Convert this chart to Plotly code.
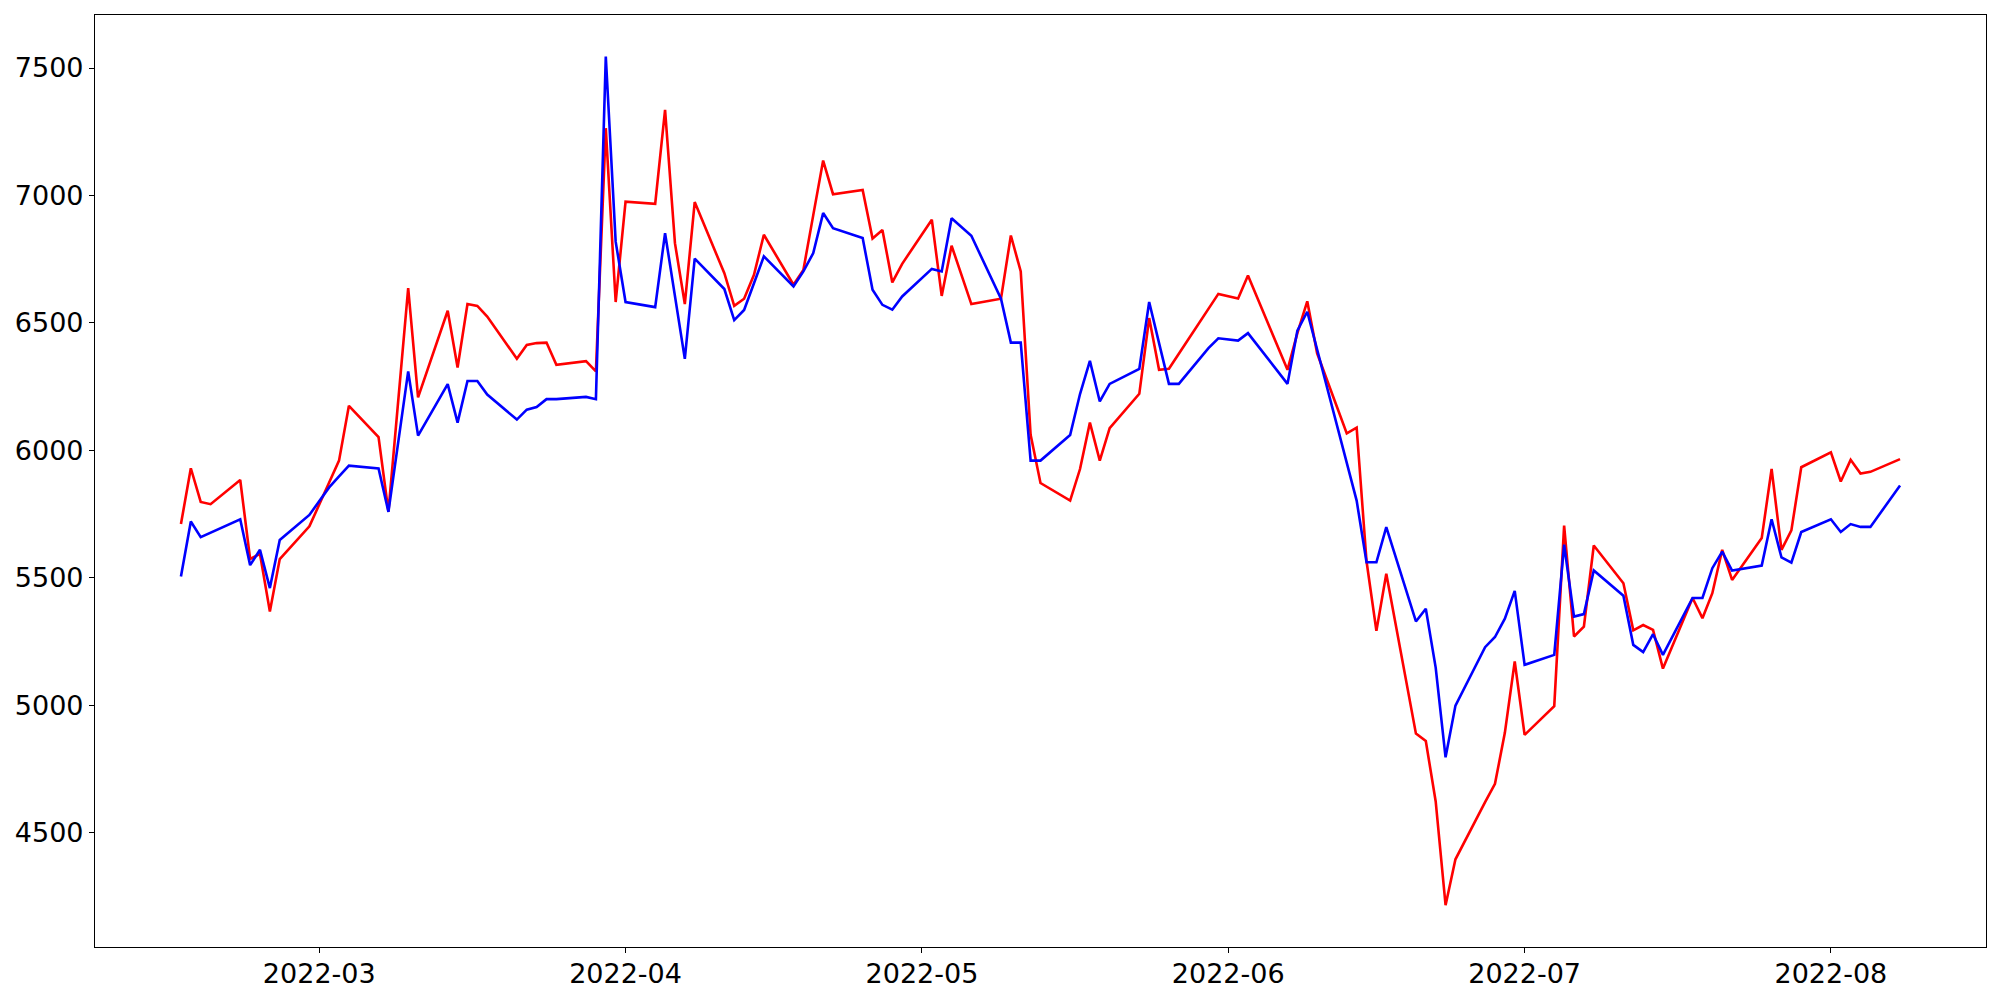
import plotly.graph_objects as go

dates = [
    "2022-02-15", "2022-02-16", "2022-02-17", "2022-02-18", "2022-02-21", "2022-02-22",
    "2022-02-23", "2022-02-24", "2022-02-25", "2022-02-28", "2022-03-02", "2022-03-03",
    "2022-03-04", "2022-03-07", "2022-03-08", "2022-03-10", "2022-03-11", "2022-03-14",
    "2022-03-15", "2022-03-16", "2022-03-17", "2022-03-18", "2022-03-21", "2022-03-22",
    "2022-03-23", "2022-03-24", "2022-03-25", "2022-03-28", "2022-03-29", "2022-03-30",
    "2022-03-31", "2022-04-01", "2022-04-04", "2022-04-05", "2022-04-06", "2022-04-07",
    "2022-04-08", "2022-04-11", "2022-04-12", "2022-04-13", "2022-04-14", "2022-04-15",
    "2022-04-18", "2022-04-19", "2022-04-20", "2022-04-21", "2022-04-22", "2022-04-25",
    "2022-04-26", "2022-04-27", "2022-04-28", "2022-04-29", "2022-05-02", "2022-05-03",
    "2022-05-04", "2022-05-06", "2022-05-09", "2022-05-10", "2022-05-11", "2022-05-12",
    "2022-05-13", "2022-05-16", "2022-05-17", "2022-05-18", "2022-05-19", "2022-05-20",
    "2022-05-23", "2022-05-24", "2022-05-25", "2022-05-26", "2022-05-27", "2022-05-30",
    "2022-05-31", "2022-06-02", "2022-06-03", "2022-06-07", "2022-06-08", "2022-06-09",
    "2022-06-10", "2022-06-13", "2022-06-14", "2022-06-15", "2022-06-16", "2022-06-17",
    "2022-06-20", "2022-06-21", "2022-06-22", "2022-06-23", "2022-06-24", "2022-06-27",
    "2022-06-28", "2022-06-29", "2022-06-30", "2022-07-01", "2022-07-04", "2022-07-05",
    "2022-07-06", "2022-07-07", "2022-07-08", "2022-07-11", "2022-07-12", "2022-07-13",
    "2022-07-14", "2022-07-15", "2022-07-18", "2022-07-19", "2022-07-20", "2022-07-21",
    "2022-07-22", "2022-07-25", "2022-07-26", "2022-07-27", "2022-07-28", "2022-07-29",
    "2022-08-01", "2022-08-02", "2022-08-03", "2022-08-04", "2022-08-05", "2022-08-08",
]

red_values = [
    5711, 5930, 5798, 5789, 5884, 5574,
    5594, 5368, 5574, 5702, 5874, 5960,
    6175, 6052, 5760, 6637, 6208, 6548,
    6325, 6574, 6567, 6525, 6360, 6414,
    6421, 6423, 6336, 6350, 6310, 7264,
    6582, 6976, 6967, 7336, 6813, 6574,
    6974, 6695, 6567, 6595, 6689, 6846,
    6650, 6708, 6923, 7137, 7005, 7022,
    6831, 6865, 6659, 6732, 6905, 6606,
    6803, 6574, 6595, 6843, 6702, 6061,
    5872, 5803, 5927, 6109, 5960, 6087,
    6222, 6519, 6316, 6320, 6379, 6555,
    6614, 6596, 6686, 6316, 6460, 6585,
    6381, 6067, 6089, 5565, 5292, 5516,
    4889, 4860, 4623, 4216, 4396, 4620,
    4692, 4892, 5172, 4884, 4997, 5705,
    5270, 5309, 5627, 5479, 5294, 5315,
    5296, 5144, 5421, 5342, 5440, 5610,
    5492, 5656, 5927, 5610, 5686, 5934,
    5992, 5878, 5963, 5909, 5916, 5966,
]

blue_values = [
    5505, 5721, 5660, 5678, 5730, 5550,
    5610, 5460, 5649, 5747, 5855, 5898,
    5940, 5929, 5759, 6310, 6058, 6260,
    6109, 6272, 6272, 6219, 6121, 6160,
    6170, 6201, 6201, 6210, 6201, 7545,
    6819, 6582, 6562, 6852, 6606, 6359,
    6752, 6633, 6511, 6551, 6656, 6761,
    6643, 6702, 6774, 6931, 6872, 6833,
    6630, 6571, 6552, 6604, 6712, 6702,
    6911, 6842, 6595, 6423, 6423, 5960,
    5960, 6060, 6221, 6351, 6192, 6261,
    6320, 6582, 6421, 6261, 6261, 6401,
    6440, 6431, 6460, 6261, 6470, 6544,
    6396, 5951, 5803, 5561, 5561, 5699,
    5329, 5379, 5148, 4796, 4999, 5228,
    5268, 5340, 5449, 5159, 5198, 5630,
    5348, 5358, 5529, 5430, 5237, 5209,
    5279, 5198, 5421, 5421, 5538, 5603,
    5529, 5548, 5730, 5580, 5560, 5680,
    5730, 5680, 5711, 5700, 5700, 5862,
]

x_tick_values = ["2022-03-01", "2022-04-01", "2022-05-01", "2022-06-01", "2022-07-01", "2022-08-01"]
x_tick_labels = ["2022-03", "2022-04", "2022-05", "2022-06", "2022-07", "2022-08"]
y_tick_values = [4500, 5000, 5500, 6000, 6500, 7000, 7500]

fig = go.Figure()
fig.add_trace(go.Scatter(x=dates, y=red_values, mode="lines",
                         line=dict(color="#ff0000", width=2.6), showlegend=False))
fig.add_trace(go.Scatter(x=dates, y=blue_values, mode="lines",
                         line=dict(color="#0000ff", width=2.6), showlegend=False))

axis_common = dict(
    showgrid=False, zeroline=False, showline=True, linecolor="black", linewidth=1.2,
    mirror=True, ticks="outside", ticklen=5, tickwidth=1.2, tickcolor="black",
    automargin=False,
    tickfont=dict(family="DejaVu Sans", size=27, color="black"),
)

# the page body adds an 8px offset, so the figure is sized/margined to compensate
fig.update_layout(
    width=1984, height=992,
    paper_bgcolor="white", plot_bgcolor="white",
    margin=dict(l=87, r=6, t=7, b=53),
    xaxis=dict(type="date", range=["2022-02-06 07:12", "2022-08-16 16:48"],
               tickvals=x_tick_values, ticktext=x_tick_labels,
               ticklabelstandoff=-3, **axis_common),
    yaxis=dict(range=[4052, 7708], tickvals=y_tick_values,
               ticktext=[str(v) for v in y_tick_values], **axis_common),
)

fig.write_html("out.html")
